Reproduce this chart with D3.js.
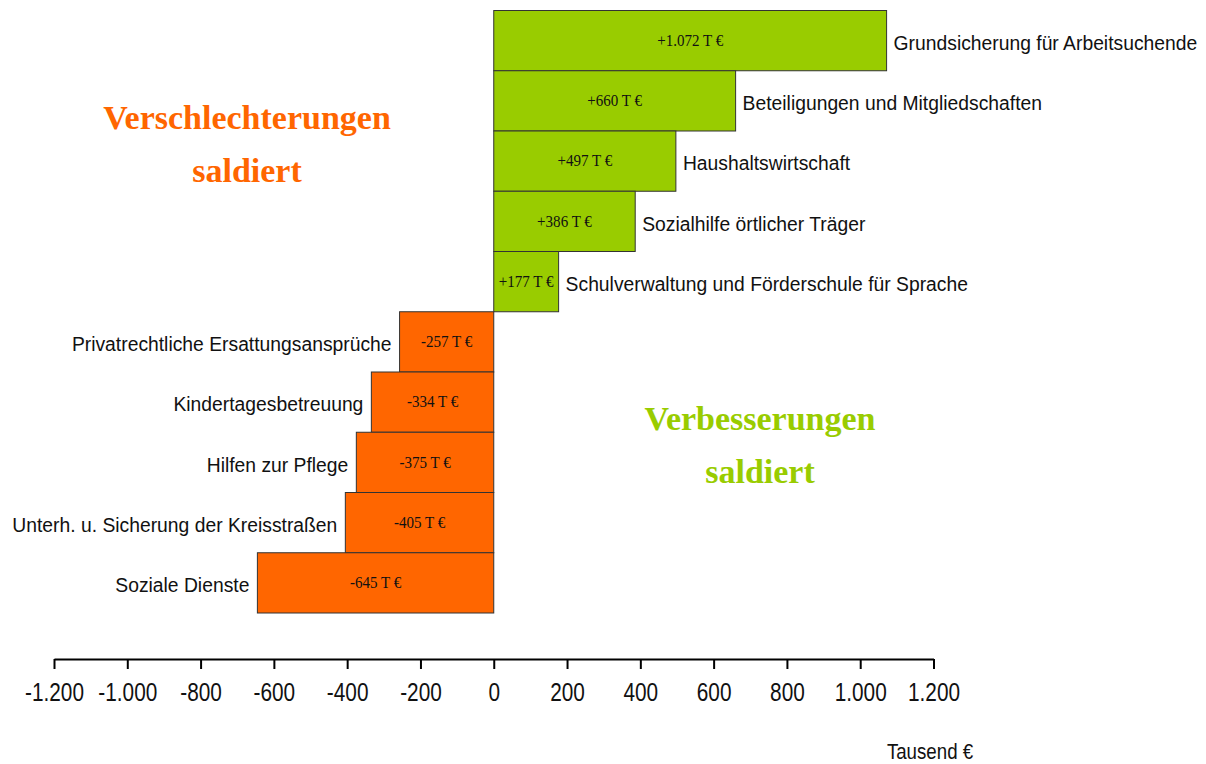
<!DOCTYPE html>
<html>
<head>
<meta charset="utf-8">
<script src="https://cdn.jsdelivr.net/npm/d3@7"></script>
<style>
  body { margin: 0; background: #fff; }
  svg { display: block; }
</style>
</head>
<body>
<div id="chart"></div>
<script>
// categories top to bottom, with their balance in Tausend €
var categories = [
  "Grundsicherung für Arbeitsuchende",
  "Beteiligungen und Mitgliedschaften",
  "Haushaltswirtschaft",
  "Sozialhilfe örtlicher Träger",
  "Schulverwaltung und Förderschule für Sprache",
  "Privatrechtliche Ersattungsansprüche",
  "Kindertagesbetreuung",
  "Hilfen zur Pflege",
  "Unterh. u. Sicherung der Kreisstraßen",
  "Soziale Dienste"
];
var values = [1072, 660, 497, 386, 177, -257, -334, -375, -405, -645];
var valueLabels = ["+1.072 T €", "+660 T €", "+497 T €", "+386 T €", "+177 T €",
                   "-257 T €", "-334 T €", "-375 T €", "-405 T €", "-645 T €"];
var tickValues = [-1200, -1000, -800, -600, -400, -200, 0, 200, 400, 600, 800, 1000, 1200];

var width = 1206, height = 764;
var green = "#99cc00", orange = "#ff6600";
var sans = "'Liberation Sans', Arial, sans-serif";
var serif = "'Liberation Serif', 'Times New Roman', serif";

var svg = d3.select("#chart").append("svg")
  .attr("width", width)
  .attr("height", height);

var x = d3.scaleLinear().domain([-1200, 1200]).range([54, 933.5]);
var y = d3.scaleBand().domain(categories).range([10.5, 613]).padding(0);

var de = d3.formatLocale({decimal: ",", thousands: ".", grouping: [3], currency: ["", " €"], minus: "-"});

// bars
svg.selectAll("rect.bar")
  .data(categories)
  .enter().append("rect")
  .attr("class", "bar")
  .attr("x", function(d, i){ return x(Math.min(0, values[i])); })
  .attr("y", function(d){ return y(d); })
  .attr("width", function(d, i){ return Math.abs(x(values[i]) - x(0)); })
  .attr("height", y.bandwidth())
  .style("fill", function(d, i){ return values[i] >= 0 ? green : orange; })
  .style("stroke", "#333")
  .style("stroke-width", 1);

// value labels inside the bars (serif, a bit condensed)
svg.selectAll("text.val")
  .data(categories)
  .enter().append("text")
  .attr("class", "val")
  .attr("transform", function(d, i){
    var cx = (x(values[i]) + x(0)) / 2;
    return "translate(" + cx + "," + (y(d) + y.bandwidth() / 2 - 1) + ") scale(0.86,1)";
  })
  .attr("dy", "0.35em")
  .style("text-anchor", "middle")
  .style("font-family", serif)
  .style("font-size", "17.5px")
  .style("fill", "#111")
  .text(function(d, i){ return valueLabels[i]; });

// category labels next to the bars
svg.selectAll("text.cat")
  .data(categories)
  .enter().append("text")
  .attr("class", "cat")
  .attr("transform", function(d, i){
    var px = values[i] >= 0 ? x(values[i]) + 7 : x(values[i]) - 8;
    return "translate(" + px + "," + (y(d) + y.bandwidth() / 2 + 2) + ") scale(0.92,1)";
  })
  .attr("dy", "0.35em")
  .style("text-anchor", function(d, i){ return values[i] >= 0 ? "start" : "end"; })
  .style("font-family", sans)
  .style("font-size", "21px")
  .style("fill", "#111")
  .text(function(d){ return d; });

// x axis
var axis = svg.append("g")
  .attr("transform", "translate(0,659)")
  .call(d3.axisBottom(x)
    .tickValues(tickValues)
    .tickSizeInner(10)
    .tickSizeOuter(0)
    .tickPadding(14)
    .tickFormat(de.format(",d")));

axis.select(".domain").style("stroke", "#000").style("stroke-width", 2);
axis.selectAll(".tick line").style("stroke", "#000").style("stroke-width", 2);
axis.selectAll(".tick text")
  .attr("transform", "scale(0.8,1)")
  .style("font-family", sans)
  .style("font-size", "26px")
  .style("fill", "#111");

svg.append("text")
  .attr("transform", "translate(930,759) scale(0.85,1)")
  .style("text-anchor", "middle")
  .style("font-family", sans)
  .style("font-size", "22px")
  .style("fill", "#111")
  .text("Tausend €");

// the two annotations
var notes = [
  {lines: ["Verschlechterungen", "saldiert"], cx: 247, y0: 129, color: orange},
  {lines: ["Verbesserungen", "saldiert"], cx: 760, y0: 430, color: green}
];
notes.forEach(function(n){
  n.lines.forEach(function(line, k){
    svg.append("text")
      .attr("x", n.cx)
      .attr("y", n.y0 + k * 53)
      .style("text-anchor", "middle")
      .style("font-family", serif)
      .style("font-weight", "bold")
      .style("font-size", "34px")
      .style("fill", n.color)
      .text(line);
  });
});
</script>
</body>
</html>
